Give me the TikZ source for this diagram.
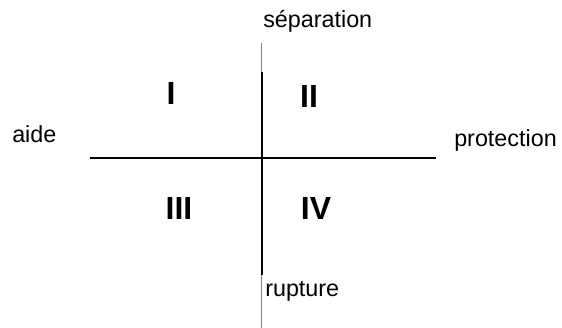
\documentclass[tikz,border=0pt]{standalone}
\usepackage{fontspec}
\setmainfont{Liberation Sans}
\usetikzlibrary{positioning}

\begin{document}
\begin{tikzpicture}[
    x=0.75pt, y=-0.75pt,
    axis/.style={draw=black, line width=1.5pt},
    guide/.style={draw=gray, line width=0.6pt},
    pole/.style={inner sep=0, font=\fontsize{17.5}{20}\selectfont, anchor=base west},
    zone/.style={inner sep=0, font=\fontsize{24}{28}\selectfont\bfseries}
]
    \useasboundingbox (0,0) rectangle (562,328);

    % Axes
    \coordinate (west) at (90,158);
    \coordinate (east) at (436,158);
    \coordinate (north) at (262,72);
    \coordinate (south) at (262,275);
    \coordinate (gtop) at (261,43);
    \coordinate (gbot) at (261,328);

    \draw[guide] (gtop) -- (gbot);
    \draw[axis] (west) -- (east);
    \draw[axis] (north) -- (south);

    % Poles
    \node[pole] (sep) at (263,28) {séparation};
    \node[pole] (aide) at (12,143) {aide};
    \node[pole] (prot) at (454,147) {protection};
    \node[pole] (rupt) at (265,297) {rupture};

    % Quadrants
    \node[zone] (q1) at (171,93) {I};
    \node[zone] (q2) at (309,96) {II};
    \node[zone] (q3) at (179,208) {III};
    \node[zone] (q4) at (316,208) {IV};
\end{tikzpicture}
\end{document}
